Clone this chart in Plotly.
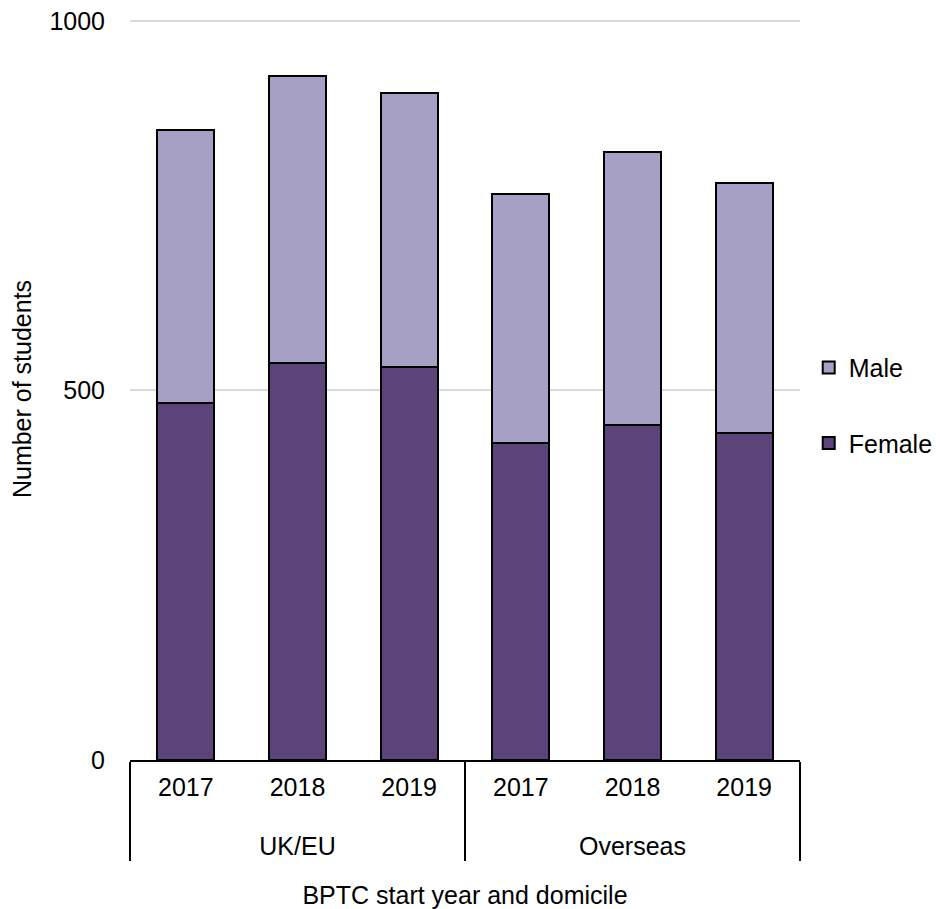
import plotly.graph_objects as go

# Data
domicile = ["UK/EU", "UK/EU", "UK/EU", "Overseas", "Overseas", "Overseas"]
years = ["2017", "2018", "2019", "2017", "2018", "2019"]
female = [483, 537, 532, 429, 453, 442]
male = [369, 389, 371, 337, 370, 339]

FONT = "Liberation Sans, Arial, sans-serif"

# pad year labels with an empty line so the domicile row sits lower
year_labels = [y + "<br>&nbsp;" for y in years]

fig = go.Figure()
fig.add_trace(go.Bar(
    x=[domicile, year_labels], y=female, name="Female", legendgroup="f", legendrank=2,
    marker=dict(color="#5B4479", line=dict(color="black", width=2)),
))
fig.add_trace(go.Bar(
    x=[domicile, year_labels], y=male, name="Male", legendgroup="m", legendrank=1,
    marker=dict(color="#A6A1C4", line=dict(color="black", width=2)),
))

# page body has an 8px margin, so the figure is slightly smaller than the window
fig.update_layout(
    barmode="stack",
    bargap=0.49,
    width=933, height=901,
    margin=dict(l=122, r=141, t=10, b=149, autoexpand=False),
    plot_bgcolor="white",
    paper_bgcolor="white",
    font=dict(family=FONT, size=25, color="black"),
    legend=dict(
        x=1.013, y=0.478, xanchor="left", yanchor="middle",
        traceorder="grouped", tracegroupgap=40,
        font=dict(size=25), itemwidth=30,
    ),
    xaxis=dict(
        automargin=False,
        showline=True, linecolor="black", linewidth=2,
        showdividers=True, dividercolor="black", dividerwidth=2,
        tickfont=dict(size=25),
        ticklabelstandoff=4,
        title=dict(text="BPTC start year and domicile", standoff=28, font=dict(size=25)),
    ),
    yaxis=dict(
        automargin=False,
        range=[0, 1004], tickvals=[0, 500, 1000],
        showgrid=True, gridcolor="#d9d9d9", gridwidth=2,
        zeroline=False, showline=False,
        ticklabelstandoff=24, ticklabeloverflow="allow",
        tickfont=dict(size=25),
        title=dict(text="Number of students", standoff=18, font=dict(size=25)),
    ),
)

fig.write_html("out.html")
